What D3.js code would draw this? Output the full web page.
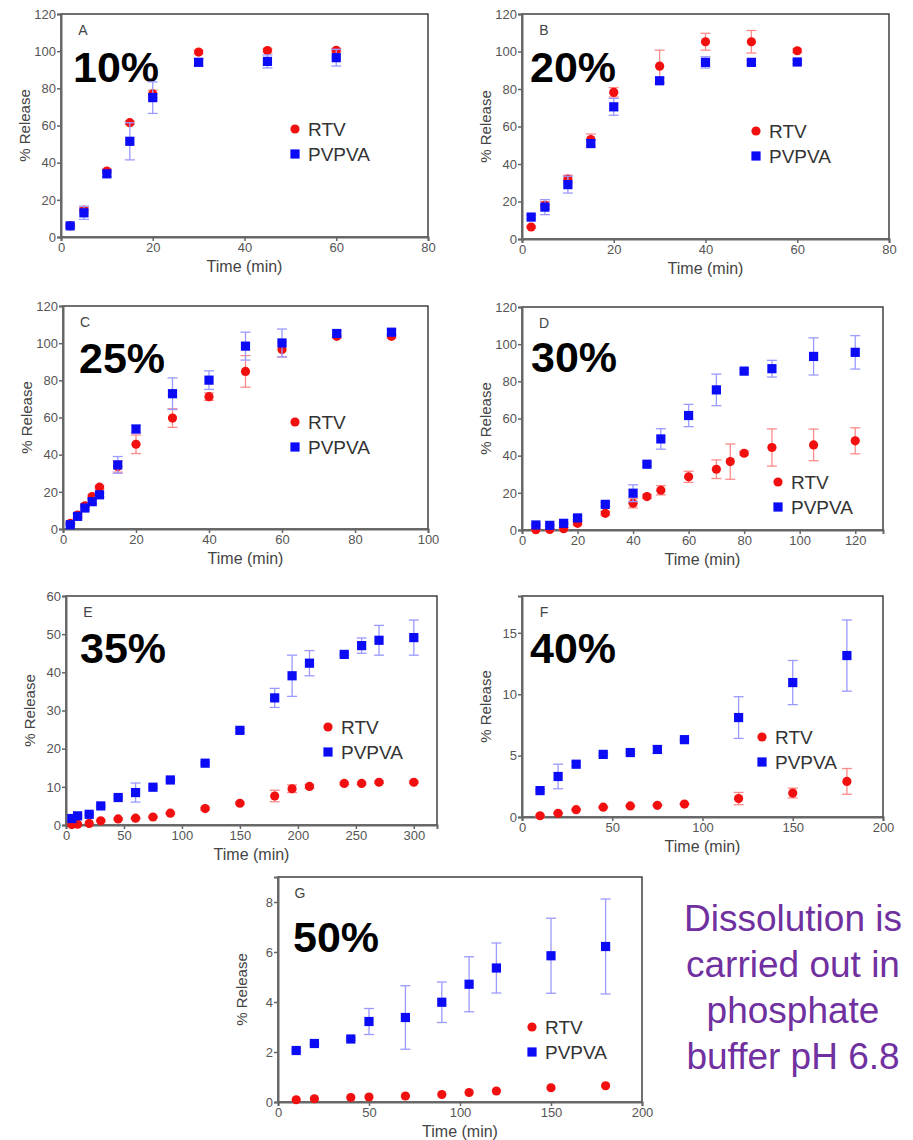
<!DOCTYPE html>
<html><head><meta charset="utf-8">
<script src="https://cdn.jsdelivr.net/npm/d3@7"></script>
<style>
body{margin:0;background:#fff;}
text{font-family:"Liberation Sans",Arial,sans-serif;}
</style></head>
<body><svg id="c" width="913" height="1140"></svg>
<script>
// ---------- DATA ----------
const seriesNames = ["RTV", "PVPVA"];
const panelLetters = ["A","B","C","D","E","F","G"];
const panelPercents = ["10%","20%","25%","30%","35%","40%","50%"];

const timeA = [2,5,10,15,20,30,45,60];
const rtvA = [6,14.5,35.5,61.5,77,99.5,100.3,100.5];
const rtvErrA = [0.5,1.5,1,1,2,1,1,1];
const pvpvaA = [6,13,34,51.5,75,94,94.5,96.5];
const pvpvaErrA = [1,3.5,1.5,10,8.5,2,3.5,4.5];

const timeB = [2,5,10,15,20,30,40,50,60];
const rtvB = [6.4,18,32,53,78.2,92.2,105.2,105.2,100.4];
const rtvErrB = [0.5,2,2,3,2.5,8.5,4.5,6,1];
const pvpvaB = [11.7,17,29,50.9,70.5,84.4,94.2,94.2,94.4];
const pvpvaErrB = [1,4,4.5,2,4.5,1.5,3,1,1];

const timeC = [2,4,6,8,10,15,20,30,40,50,60,75,90];
const rtvC = [3,7.5,12.5,17.5,22.5,33.6,45.6,59.7,71.2,84.8,96.6,103.7,103.7];
const rtvErrC = [0.5,1,1,1,1,3,5,5,2,8.5,4,1,1];
const pvpvaC = [2.3,6.8,11.3,14.7,18.4,34.5,53.8,72.8,80.1,98.4,100.1,105.2,105.9];
const pvpvaErrC = [0.5,1,1,1,1,4.5,2,8.5,5,7.5,7.5,1.5,1.5];

const timeRtvD = [5,10,15,20,30,40,45,50,60,70,75,80,90,105,120];
const rtvD = [0.2,0.3,0.7,3.6,9,14.4,18,21.4,28.6,32.7,36.8,41.3,44.4,45.8,48];
const rtvErrD = [0.3,0.3,0.5,1,1,2.5,1,2.5,3,5,9.5,1,10,8.5,7];
const timePvpvaD = [5,10,15,20,30,40,45,50,60,70,80,90,105,120];
const pvpvaD = [2.7,2.5,3.6,6.5,13.8,19.8,35.4,49,61.6,75.4,85.5,86.8,93.4,95.6];
const pvpvaErrD = [0.5,0.5,0.5,1,1,4.5,1,5.5,6,8.5,1,4.5,10,9];

const timeE = [5,10,20,30,45,60,75,90,120,150,180,195,210,240,255,270,300];
const rtvE = [0.1,0.2,0.4,1.1,1.6,1.8,2.1,3.1,4.3,5.7,7.6,9.5,10.1,10.9,10.9,11.2,11.2];
const rtvErrE = [0,0,0,0.2,0.2,0.2,0.2,0.3,0.3,0.3,1.5,1,0.5,0.3,0.3,0.3,0.3];
const pvpvaE = [1.7,2.4,2.8,5,7.2,8.5,9.9,11.8,16.2,24.8,33.3,39.1,42.4,44.7,47,48.4,49.1];
const pvpvaErrE = [0.3,0.3,0.3,0.3,0.3,2.5,0.3,0.3,0.3,0.5,2.5,5.4,3.3,0.3,2,3.9,4.6];

const timeF = [10,20,30,45,60,75,90,120,150,180];
const rtvF = [0.1,0.3,0.6,0.8,0.9,0.95,1.05,1.5,1.95,2.9];
const rtvErrF = [0.05,0.05,0.05,0.05,0.05,0.05,0.05,0.5,0.4,1.05];
const pvpvaF = [2.15,3.3,4.3,5.1,5.25,5.5,6.3,8.1,10.95,13.15];
const pvpvaErrF = [0.1,1,0.15,0.1,0.1,0.3,0.1,1.7,1.8,2.9];

const timeG = [10,20,40,50,70,90,105,120,150,180];
const rtvG = [0.09,0.13,0.18,0.2,0.24,0.3,0.38,0.44,0.57,0.65];
const rtvErrG = [0,0,0,0,0,0,0,0,0,0];
const pvpvaG = [2.06,2.34,2.52,3.22,3.38,3.99,4.71,5.36,5.85,6.22];
const pvpvaErrG = [0.05,0.05,0.05,0.52,1.27,0.81,1.1,1.0,1.5,1.9];

const xTicksAB = [0,20,40,60,80];
const xTicksC = [0,20,40,60,80,100];
const xTicksD = [0,20,40,60,80,100,120];
const xTicksE = [0,50,100,150,200,250,300];
const xTicksFG = [0,50,100,150,200];
const yTicks120 = [0,20,40,60,80,100,120];
const yTicksE = [0,10,20,30,40,50,60];
const yTicksF = [0,5,10,15];
const yTicksG = [0,2,4,6,8];

const noteLines = ["Dissolution is","carried out in","phosphate","buffer pH 6.8"];

// ---------- LAYOUT ----------
const panels = [
  {L:61,R:428,T:14,B:237, xd:[0,80], yd:[0,120], xt:xTicksAB, yt:yTicks120,
   tr:timeA, r:rtvA, re:rtvErrA, tp:timeA, p:pvpvaA, pe:pvpvaErrA, pct:[12,68], leg:[234,115]},
  {L:522,R:889,T:14,B:239, xd:[0,80], yd:[0,120], xt:xTicksAB, yt:yTicks120,
   tr:timeB, r:rtvB, re:rtvErrB, tp:timeB, p:pvpvaB, pe:pvpvaErrB, pct:[8,68], leg:[234,117]},
  {L:63,R:428,T:306,B:529, xd:[0,100], yd:[0,120], xt:xTicksC, yt:yTicks120,
   tr:timeC, r:rtvC, re:rtvErrC, tp:timeC, p:pvpvaC, pe:pvpvaErrC, pct:[16,67], leg:[232,116]},
  {L:522,R:883,T:307,B:530, xd:[0,130], yd:[0,120], xt:xTicksD, yt:yTicks120,
   tr:timeRtvD, r:rtvD, re:rtvErrD, tp:timePvpvaD, p:pvpvaD, pe:pvpvaErrD, pct:[9,65], leg:[256,175]},
  {L:66,R:437,T:596,B:825, xd:[0,320], yd:[0,60], xt:xTicksE, yt:yTicksE,
   tr:timeE, r:rtvE, re:rtvErrE, tp:timeE, p:pvpvaE, pe:pvpvaErrE, pct:[14,67], leg:[262,131]},
  {L:522,R:883,T:596,B:817, xd:[0,200], yd:[0,18], xt:xTicksFG, yt:yTicksF,
   tr:timeF, r:rtvF, re:rtvErrF, tp:timeF, p:pvpvaF, pe:pvpvaErrF, pct:[8,67], leg:[240,141]},
  {L:278,R:642,T:877,B:1102, xd:[0,200], yd:[0,9], xt:xTicksFG, yt:yTicksG,
   tr:timeG, r:rtvG, re:rtvErrG, tp:timeG, p:pvpvaG, pe:pvpvaErrG, pct:[15,75], leg:[254,150]}
];

const RED = "#f20f0f", BLUE = "#0b0bf5";
const RED_ERR = "#ff8a8a", BLUE_ERR = "#9a9aff";
const svg = d3.select("#c");

panels.forEach((P, i) => {
  const x = d3.scaleLinear().domain(P.xd).range([P.L, P.R]);
  const y = d3.scaleLinear().domain(P.yd).range([P.B, P.T]);
  const g = svg.append("g");

  // frame
  g.append("rect").attr("x", P.L).attr("y", P.T).attr("width", P.R - P.L).attr("height", P.B - P.T)
    .attr("fill", "none").attr("stroke", "#333").attr("stroke-width", 1.4);

  const xa = g.append("g").attr("transform", `translate(0,${P.B})`)
    .call(d3.axisBottom(x).tickValues(P.xt).tickSize(4).tickPadding(2).tickFormat(d3.format("d")));
  const ya = g.append("g").attr("transform", `translate(${P.L},0)`)
    .call(d3.axisLeft(y).tickValues(P.yt).tickSize(4).tickPadding(1).tickFormat(d3.format("d")));
  [xa, ya].forEach(a => {
    a.select(".domain").attr("stroke", "#666").attr("stroke-width", 2);
    a.selectAll(".tick line").attr("stroke", "#666").attr("stroke-width", 1.5);
    a.selectAll(".tick text").attr("fill", "#555").style("font-size", "13px")
      .style("font-family", '"Liberation Sans",Arial,sans-serif');
  });

  // axis titles
  g.append("text").attr("x", (P.L + P.R) / 2).attr("y", P.B + 35).attr("text-anchor", "middle")
    .attr("fill", "#444").style("font-size", "16px").text("Time (min)");
  g.append("text").attr("transform", `translate(${P.L - 31},${(P.T + P.B) / 2}) rotate(-90)`)
    .attr("text-anchor", "middle").attr("fill", "#444").style("font-size", "15px").text("% Release");

  // panel letter
  g.append("text").attr("x", P.L + 22).attr("y", P.T + 21).attr("text-anchor", "middle")
    .attr("fill", "#444").style("font-size", "14px").text(panelLetters[i]);
  // big percent
  g.append("text").attr("x", P.L + P.pct[0]).attr("y", P.T + P.pct[1])
    .attr("fill", "#000").style("font-size", "43px").style("font-weight", "bold").text(panelPercents[i]);

  const series = [
    {t:P.tr, v:P.r, e:P.re, c:RED, ec:RED_ERR, shape:"circle"},
    {t:P.tp, v:P.p, e:P.pe, c:BLUE, ec:BLUE_ERR, shape:"square"}
  ];
  series.forEach(s => {
    const pts = s.t.map((t, k) => ({t, v:s.v[k], e:s.e[k]}));
    const eg = g.append("g").attr("stroke", s.ec).attr("stroke-width", 1.3).attr("fill", "none");
    pts.filter(d => d.e > 0).forEach(d => {
      const cx = x(d.t), y1 = y(d.v - d.e), y2 = y(d.v + d.e);
      eg.append("line").attr("x1", cx).attr("x2", cx).attr("y1", y1).attr("y2", y2);
      eg.append("line").attr("x1", cx - 5).attr("x2", cx + 5).attr("y1", y1).attr("y2", y1);
      eg.append("line").attr("x1", cx - 5).attr("x2", cx + 5).attr("y1", y2).attr("y2", y2);
    });
    if (s.shape === "circle") {
      g.append("g").selectAll("circle").data(pts).join("circle")
        .attr("cx", d => x(d.t)).attr("cy", d => y(d.v)).attr("r", 4.6).attr("fill", s.c);
    } else {
      g.append("g").selectAll("rect").data(pts).join("rect")
        .attr("x", d => x(d.t) - 4.6).attr("y", d => y(d.v) - 4.6)
        .attr("width", 9.2).attr("height", 9.2).attr("fill", s.c);
    }
  });

  // legend
  const lx = P.L + P.leg[0], ly = P.T + P.leg[1];
  g.append("circle").attr("cx", lx).attr("cy", ly).attr("r", 4.6).attr("fill", RED);
  g.append("rect").attr("x", lx - 4.6).attr("y", ly + 25 - 4.6).attr("width", 9.2).attr("height", 9.2).attr("fill", BLUE);
  seriesNames.forEach((n, k) => {
    g.append("text").attr("x", lx + 13).attr("y", ly + k * 25).attr("dy", "0.36em")
      .attr("fill", "#333").style("font-size", "19px").text(n);
  });
});

// note text
const note = svg.append("text").attr("text-anchor", "middle").attr("fill", "#7030A0").style("font-size", "37px");
noteLines.forEach((l, k) => {
  note.append("tspan").attr("x", 793).attr("y", 931 + k * 46).text(l);
});
</script></body></html>
